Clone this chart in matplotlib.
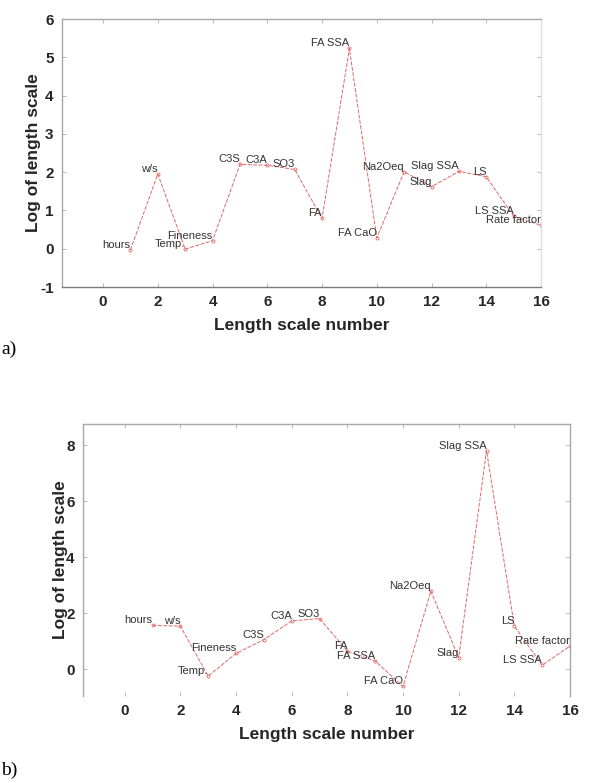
import numpy as np
from matplotlib import pyplot

pyplot.rcParams["axes.unicode_minus"] = False

# length scale names, one per input variable
names = ["hours", "w/s", "Temp.", "Fineness", "C3S", "C3A", "SO3", "FA", "FA SSA",
         "FA CaO", "Na2Oeq", "Slag", "Slag SSA", "LS", "LS SSA", "Rate factor"]
scale_number = np.arange(1, 17)

# log of length scale, panel a) and panel b)
log_scale_a = [-0.03, 1.95, -0.01, 0.21, 2.20, 2.18, 2.07, 0.79,
               5.23, 0.28, 2.01, 1.62, 2.02, 1.88, 0.85, 0.61]
log_scale_b = [1.57, 1.54, -0.24, 0.57, 1.06, 1.73, 1.81, 0.65,
               0.30, -0.61, 2.79, 0.42, 7.80, 1.54, 0.15, 0.83]

x_ticks = [0, 2, 4, 6, 8, 10, 12, 14, 16]
y_ticks_a = [-1, 0, 1, 2, 3, 4, 5, 6]
y_ticks_b = [0, 2, 4, 6, 8]

line_color = "#e06868"
font = "Liberation Sans"


def draw_panel(ax, values, ylim, yticks, show_bottom=True):
    ax.plot(scale_number, values, linestyle=(0, (4, 1.5)), lw=0.7, color=line_color,
            marker="o", markersize=2.2, markerfacecolor="none", markeredgewidth=0.6)
    for x, y, name in zip(scale_number, values, names):
        ax.annotate(name, (x, y), xytext=(0, 0), textcoords="offset points",
                    ha="right", va="bottom", fontsize=8, color="#333333", family=font)

    ax.set_xlim(-1.5, 16)
    ax.set_ylim(*ylim)
    ax.set_xticks(x_ticks)
    ax.set_yticks(yticks)
    ax.tick_params(direction="in", length=3, width=0.6, color="#b0b0b0", top=True, right=True,
                   labelsize=11, pad=6)
    for lbl in ax.get_xticklabels() + ax.get_yticklabels():
        lbl.set_fontweight("bold")
        lbl.set_family(font)
        lbl.set_color("#262626")

    for side in ["top", "left"]:
        ax.spines[side].set_color("#a8a8a8")
    ax.spines["right"].set_color("#e0e0e0")
    ax.spines["bottom"].set_color("#7a7a7a")
    for s in ax.spines.values():
        s.set_linewidth(1.0)
    if not show_bottom:
        ax.spines["bottom"].set_visible(False)
        ax.spines["right"].set_color("#a8a8a8")

    ax.set_xlabel("Length scale number", fontsize=12.5, fontweight="bold", family=font,
                  color="#262626", labelpad=6)
    ax.set_ylabel("Log of length scale", fontsize=12.5, fontweight="bold", family=font,
                  color="#262626", labelpad=-1)


fig = pyplot.figure(figsize=(5.89, 7.83), dpi=100)
ax_a = fig.add_axes([62 / 589, 1 - 287 / 783, (541 - 62) / 589, (287 - 19) / 783])
ax_b = fig.add_axes([83 / 589, 1 - 696 / 783, (570 - 83) / 589, (696 - 424) / 783])

draw_panel(ax_a, log_scale_a, (-1, 6), y_ticks_a)
draw_panel(ax_b, log_scale_b, (-0.95, 8.75), y_ticks_b, show_bottom=False)

fig.text(1 / 589, 1 - 349 / 783, "a)", ha="left", va="center", fontsize=14,
         family="Liberation Serif", color="black")
fig.text(1 / 589, 1 - 770 / 783, "b)", ha="left", va="center", fontsize=14,
         family="Liberation Serif", color="black")

fig.savefig("out.png", dpi=100)
